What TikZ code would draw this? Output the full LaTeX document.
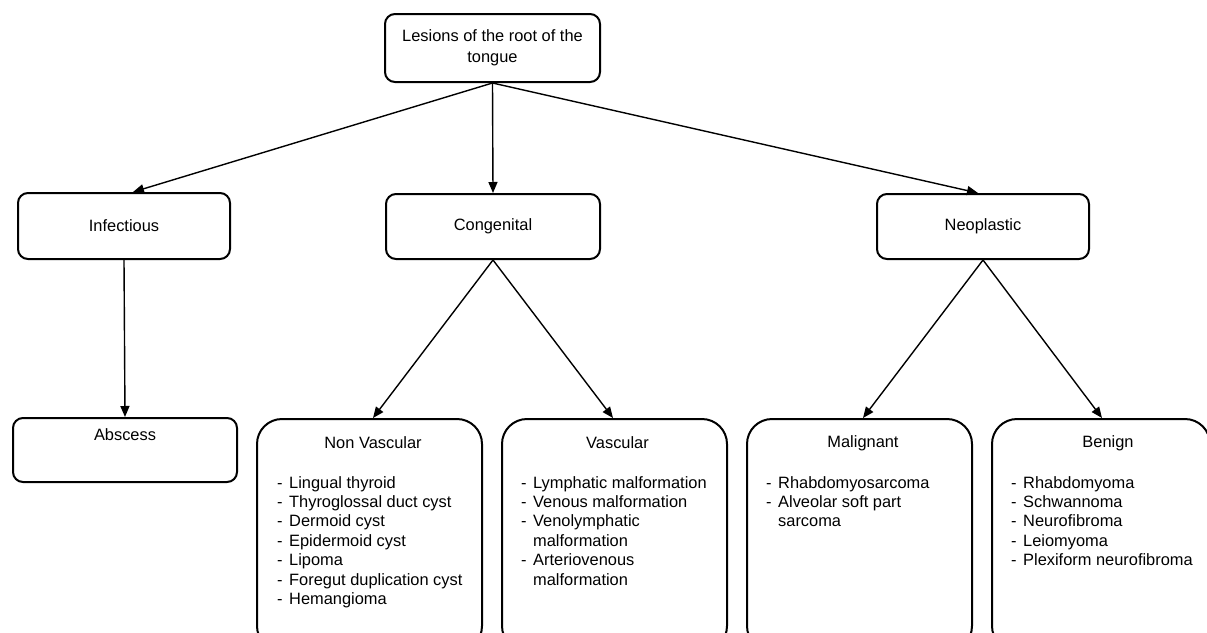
\documentclass[tikz,border=0pt]{standalone}
\usepackage{fontspec}
\setmainfont{Liberation Sans}
\usetikzlibrary{arrows.meta}
\newcommand\ditem[1]{\makebox[12pt][l]{-}#1}
\newcommand\dcont[1]{\hspace*{12pt}#1}
\begin{document}
\begin{tikzpicture}[x=1pt,y=-1pt,
  tbox/.style={draw, line width=2pt, rounded corners=10pt, minimum width=212pt,
    minimum height=66pt, inner sep=0pt, align=center, font=\fontsize{16.4}{21}\selectfont},
  bbox/.style={draw, line width=2pt, rounded corners=25pt, minimum width=225pt,
    minimum height=232pt, inner sep=0pt, anchor=north},
  head/.style={inner sep=0pt, font=\fontsize{16.4}{19.4}\selectfont},
  lst/.style={inner sep=0pt, anchor=north west, align=left, font=\fontsize{16.4}{19.4}\selectfont},
  arr/.style={line width=1.4pt, -{Triangle[length=11pt,width=9pt]}}]
\useasboundingbox (0,0) rectangle (1207,632);

% top level
\node[tbox, minimum width=215pt, minimum height=68pt] (root) at (492.5,48) {Lesions of the root of the\\tongue};
\node[tbox] (inf) at (124,226) {Infectious};
\node[tbox, minimum width=214pt, minimum height=65pt] (con) at (493,226.5) {Congenital};
\node[tbox, minimum width=212pt, minimum height=65pt] (neo) at (983,226.5) {Neoplastic};

% abscess
\node[tbox, minimum width=224pt, minimum height=64pt] (abs) at (125,450) {};
\node[head] (abst) at (125,435) {Abscess};

% bottom boxes
\node[bbox] (nv) at (369.5,418) {};
\node[bbox] (v) at (614.5,418) {};
\node[bbox] (m) at (859.5,418) {};
\node[bbox, minimum width=218pt] (b) at (1101,418) {};

\node[head] (nvh) at (373,443) {Non Vascular};
\node[head] (vh) at (617.5,443) {Vascular};
\node[head] (mh) at (863,443) {Malignant};
\node[head] (bh) at (1108,443) {Benign};

\node[lst] (nvl) at (277,476) {\ditem{Lingual thyroid}\\\ditem{Thyroglossal duct cyst}\\\ditem{Dermoid cyst}\\\ditem{Epidermoid cyst}\\\ditem{Lipoma}\\\ditem{Foregut duplication cyst}\\\ditem{Hemangioma}};
\node[lst] (vl) at (521,476) {\ditem{Lymphatic malformation}\\\ditem{Venous malformation}\\\ditem{Venolymphatic}\\\dcont{malformation}\\\ditem{Arteriovenous}\\\dcont{malformation}};
\node[lst] (ml) at (766,476) {\ditem{Rhabdomyosarcoma}\\\ditem{Alveolar soft part}\\\dcont{sarcoma}};
\node[lst] (bl) at (1011,476) {\ditem{Rhabdomyoma}\\\ditem{Schwannoma}\\\ditem{Neurofibroma}\\\ditem{Leiomyoma}\\\ditem{Plexiform neurofibroma}};

% connectors
\draw[arr] (root.south) -- ([xshift=9pt]inf.north);
\draw[arr] (root.south) -- (con.north);
\draw[arr] (root.south) -- ([xshift=-5pt]neo.north);
\draw[arr] (inf.south) -- (abs.north);
\draw[arr] (con.south) -- ([xshift=3.5pt]nv.north);
\draw[arr] (con.south) -- ([xshift=-1.5pt]v.north);
\draw[arr] (neo.south) -- ([xshift=3.5pt]m.north);
\draw[arr] (neo.south) -- ([xshift=1pt]b.north);
\end{tikzpicture}
\end{document}
